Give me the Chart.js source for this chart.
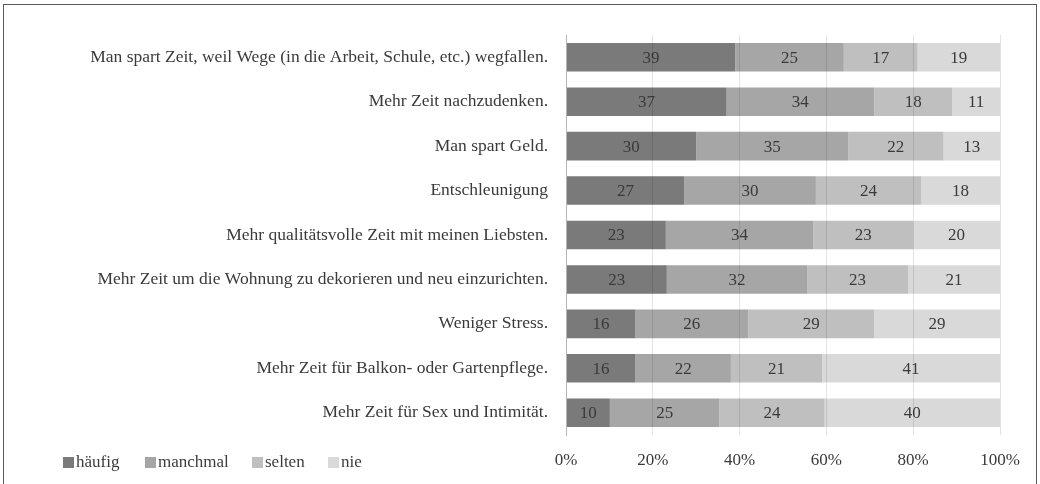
<!DOCTYPE html>
<html>
<head>
<meta charset="utf-8">
<script src="https://cdn.jsdelivr.net/npm/chart.js@4"></script>
<style>
  html, body { margin: 0; padding: 0; background: #fff; }
  #wrap { position: relative; width: 1040px; height: 484px; overflow: hidden; }
  #frame { position: absolute; left: 3px; top: 4px; width: 1034px; height: 490px; border: 1.5px solid #5a5a5a; box-sizing: border-box; pointer-events: none; }
  canvas { position: absolute; left: 0; top: 0; }
  #legend { position: absolute; left: 0; top: 451px; width: 400px; height: 24px; font-family: "Liberation Serif", "Times New Roman", serif; font-size: 17px; color: #3c3c3c; }
  #legend span.item { position: absolute; top: 0; display: inline-flex; align-items: center; height: 22px; white-space: nowrap; }
  #legend span.box { display: inline-block; width: 11px; height: 11px; margin-right: 2px; }
</style>
</head>
<body>
<div id="wrap">
  <canvas id="c" width="1040" height="484"></canvas>
  <div id="legend"></div>
  <div id="frame"></div>
</div>
<script>
const categories = [
  "Man spart Zeit, weil Wege (in die Arbeit, Schule, etc.) wegfallen.",
  "Mehr Zeit nachzudenken.",
  "Man spart Geld.",
  "Entschleunigung",
  "Mehr qualitätsvolle Zeit mit meinen Liebsten.",
  "Mehr Zeit um die Wohnung zu dekorieren und neu einzurichten.",
  "Weniger Stress.",
  "Mehr Zeit für Balkon- oder Gartenpflege.",
  "Mehr Zeit für Sex und Intimität."
];
const seriesNames = ["häufig", "manchmal", "selten", "nie"];
const haeufig  = [39, 37, 30, 27, 23, 23, 16, 16, 10];
const manchmal = [25, 34, 35, 30, 34, 32, 26, 22, 25];
const selten   = [17, 18, 22, 24, 23, 23, 29, 21, 24];
const nie      = [19, 11, 13, 18, 20, 21, 29, 41, 40];
const tickLabels = ["0%", "20%", "40%", "60%", "80%", "100%"];
const colors = ["#7a7a7a", "#a6a6a6", "#bfbfbf", "#d9d9d9"];

const raw = [haeufig, manchmal, selten, nie];
const totals = categories.map((_, i) => raw.reduce((s, arr) => s + arr[i], 0));

const datasets = raw.map((arr, k) => ({
  label: seriesNames[k],
  data: arr.map((v, i) => v / totals[i] * 100),
  rawValues: arr,
  backgroundColor: colors[k],
  borderWidth: 0,
  barPercentage: 0.643,
  categoryPercentage: 1.0
}));

const FONT = '"Liberation Serif", "Times New Roman", serif';

const labelPlugin = {
  id: 'segLabels',
  afterDatasetsDraw(chart) {
    const ctx = chart.ctx;
    ctx.save();
    ctx.font = '17px ' + FONT;
    ctx.fillStyle = '#3a3a3a';
    ctx.textAlign = 'center';
    ctx.textBaseline = 'middle';
    chart.data.datasets.forEach((ds, di) => {
      const meta = chart.getDatasetMeta(di);
      meta.data.forEach((bar, i) => {
        const cx = (bar.x + bar.base) / 2;
        ctx.fillText(String(ds.rawValues[i]), cx, bar.y + 1);
      });
    });
    ctx.restore();
  }
};

new Chart(document.getElementById('c'), {
  type: 'bar',
  data: { labels: categories, datasets },
  options: {
    indexAxis: 'y',
    responsive: false,
    animation: false,
    devicePixelRatio: 1,
    layout: { padding: { top: 35, right: 40, bottom: 0, left: 0 } },
    plugins: { legend: { display: false }, tooltip: { enabled: false } },
    scales: {
      x: {
        stacked: true,
        min: 0, max: 100,
        ticks: {
          stepSize: 20,
          padding: 15,
          color: '#3a3a3a',
          font: { family: FONT, size: 17 },
          callback: (v, i) => tickLabels[i]
        },
        grid: { color: 'rgba(0,0,0,0.11)', drawTicks: false, z: 1 },
        border: { display: false },
        afterFit: (s) => { s.height = 49; }
      },
      y: {
        stacked: true,
        ticks: {
          padding: 18,
          color: '#3a3a3a',
          font: { family: FONT, size: 17.5 }
        },
        grid: { display: false, drawTicks: false },
        border: { display: true, color: '#b5b5b5', width: 1, z: 1 },
        afterFit: (s) => { s.width = 566; }
      }
    }
  },
  plugins: [labelPlugin]
});

const legend = document.getElementById('legend');
const legendLeft = [63, 145, 252, 328];
seriesNames.forEach((name, k) => {
  const item = document.createElement('span');
  item.className = 'item';
  item.style.left = legendLeft[k] + 'px';
  const box = document.createElement('span');
  box.className = 'box';
  box.style.background = colors[k];
  item.appendChild(box);
  item.appendChild(document.createTextNode(name));
  legend.appendChild(item);
});
</script>
</body>
</html>
